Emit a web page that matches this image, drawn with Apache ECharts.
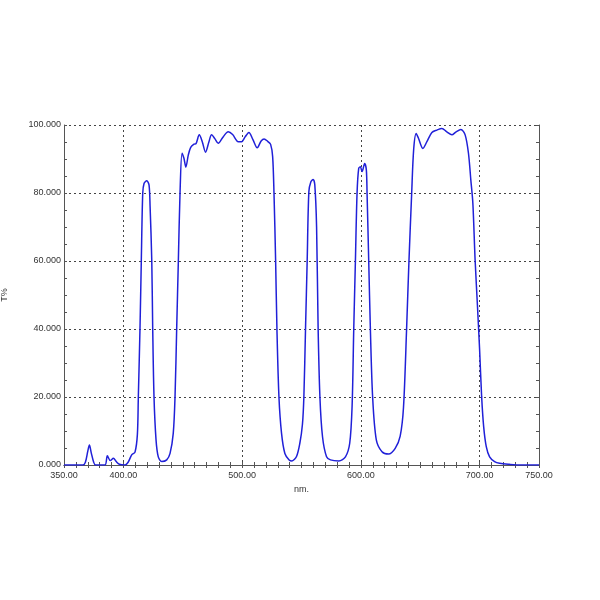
<!DOCTYPE html>
<html>
<head>
<meta charset="utf-8">
<script src="https://cdn.jsdelivr.net/npm/echarts@6/dist/echarts.min.js"></script>
<style>html,body{margin:0;padding:0;background:#fff;}#chart{width:600px;height:600px;}</style>
</head>
<body>
<div id="chart"></div>
<script>
const wavelengths = [350,360,366,368,370,371.4,373,375,376.5,384.5,386.5,389,391.6,394,396.6,401.4,404,407,409.8,411.8,412.6,414,415.1,416.3,417.4,419.7,421.6,422.5,423.9,424.7,425.8,427.5,429.4,432.3,436.5,439.3,442,443.5,444.9,446.3,447.7,449.4,451,452.6,454.7,456.7,459.5,461.1,463.9,466.5,469.2,472,474.3,477,479.9,484,488.3,492,496.7,499.6,502.5,505.7,509,512.7,516,518.5,521.5,524,525.7,526.8,528.2,529.3,531,533.2,536,539.6,542,545.8,548.6,550.8,552,553.4,554.8,556.2,557.9,559.8,561.2,562.7,564,565.5,567.7,571.1,574.4,581.4,587,590.6,592.6,594,595.4,596.8,598.2,599.6,601,603.2,604.6,605.2,606.6,608,609.9,613,617.8,623.3,628.9,633.1,635.9,638.5,640.5,642.8,644.5,646.6,648.5,652.2,655.6,659.8,664,668.2,672.4,676.6,680.2,684.2,687.8,690.6,692.6,694.3,696.2,698.2,700,701.7,703.4,705.6,708.4,712.6,716.8,725,735,750];
const transmission = [0,0,0,0.8,4.0,5.9,3.5,0.8,0,0,2.7,1.3,2.0,1.0,0.2,0,0.8,3.0,3.8,9.0,20.1,40.2,60.1,79.9,82.8,83.6,82.4,76,60.3,40.2,20,7.4,2.4,1.0,1.5,3.4,9.3,20.1,40.2,60.1,79.9,91.7,90.2,87.6,91.2,93.4,94.4,94.5,97.1,95,92,95,97.1,96,94.6,96.5,98.0,97.2,95.1,95.1,96.5,97.8,95.8,93.3,95.3,95.9,95.2,94.3,90.7,80.4,60.3,40.2,20.1,9.3,3.4,1.5,1.2,2.5,6.4,12,20.1,40.2,60.3,80.4,83.3,84,82.4,70.1,40.2,20.1,8.3,2.4,1.5,1.2,2.4,6.4,17.2,40,60.1,80.1,87.3,87.7,86.3,88.7,86.8,80.1,60.1,40,20,7.4,3.9,3.2,4.9,8.5,17,40,60.1,80.1,93,97.5,96.1,93.1,95.1,97.8,98.5,99,98,97.1,98,98.7,97.1,91.7,83.8,77,60.3,46.6,33.8,20.1,11.3,5.4,2.4,1.0,0.5,0.2,0,0];
const xLabelValues = [350, 400, 500, 600, 700, 750];
const xGridValues = [400, 500, 600, 700];
const xTickDecimals = 2;
const yTickDecimals = 3;
const xName = 'nm.';
const yName = 'T%';

const seriesData = wavelengths.map((w, i) => [w, transmission[i]]);
const axisColor = '#555';
const font = 'Liberation Sans, Arial, sans-serif';
const labelStyle = {color: '#333', fontSize: 9, fontFamily: font};
const chart = echarts.init(document.getElementById('chart'), null, {renderer: 'canvas'});
const gridLine = {show: true, lineStyle: {color: '#444', type: [2, 3], width: 1}};
const tickStyle = {show: true, inside: true, length: 3, lineStyle: {color: axisColor}};
chart.setOption({
  animation: false,
  backgroundColor: '#fff',
  grid: {left: 64, right: 61, top: 125, bottom: 135, containLabel: false, outerBoundsMode: 'none'},
  xAxis: [{
    type: 'value', min: 350, max: 750, interval: 10, position: 'bottom',
    name: xName, nameLocation: 'middle', nameGap: 20,
    nameTextStyle: {color: '#333', fontSize: 9, fontFamily: font},
    axisLine: {show: true, lineStyle: {color: axisColor, width: 1}},
    axisTick: tickStyle,
    axisLabel: Object.assign({margin: 6, customValues: xLabelValues, formatter: v => v.toFixed(xTickDecimals)}, labelStyle),
    splitLine: {show: false}
  }, {
    type: 'value', min: 350, max: 750, interval: 10, position: 'top',
    axisLine: {show: true, lineStyle: {color: axisColor, width: 1}},
    axisTick: tickStyle,
    axisLabel: {show: false},
    splitLine: {show: false}
  }, {
    type: 'value', min: 350, max: 750, position: 'bottom',
    axisLine: {show: false},
    axisTick: {show: false, customValues: xGridValues},
    axisLabel: {show: false, customValues: xGridValues},
    splitLine: gridLine
  }],
  yAxis: [{
    type: 'value', min: 0, max: 100, interval: 20, position: 'left',
    name: yName, nameLocation: 'middle', nameGap: 55, nameRotate: 90,
    nameTextStyle: {color: '#333', fontSize: 9, fontFamily: font},
    axisLine: {show: true, lineStyle: {color: axisColor, width: 1}},
    axisTick: tickStyle,
    minorTick: {show: true, splitNumber: 4, length: 3, lineStyle: {color: axisColor}},
    axisLabel: Object.assign({margin: 3, formatter: v => v.toFixed(yTickDecimals)}, labelStyle),
    splitLine: gridLine
  }, {
    type: 'value', min: 0, max: 100, interval: 20, position: 'right',
    axisLine: {show: true, lineStyle: {color: axisColor, width: 1}},
    axisTick: tickStyle,
    minorTick: {show: true, splitNumber: 4, length: 3, lineStyle: {color: axisColor}},
    axisLabel: {show: false},
    splitLine: {show: false}
  }],
  series: [{
    type: 'line',
    data: seriesData,
    xAxisIndex: 0, yAxisIndex: 0,
    showSymbol: false,
    smooth: 0.3,
    lineStyle: {color: '#2020d8', width: 1.5},
    itemStyle: {color: '#2020d8'}
  }]
});
</script>
</body>
</html>
